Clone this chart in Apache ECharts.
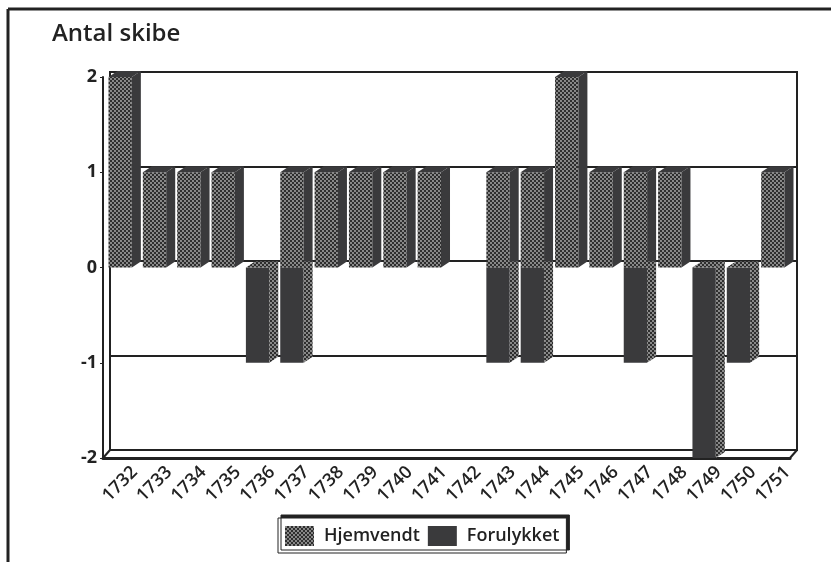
<!DOCTYPE html>
<html>
<head>
<meta charset="utf-8">
<style>
  html, body { margin: 0; padding: 0; background: #fff; }
  #chart { width: 831px; height: 562px; }
</style>
<script src="https://cdn.jsdelivr.net/npm/echarts@6/dist/echarts.min.js"></script>
</head>
<body>
<div id="chart"></div>
<script>
const years = ["1732","1733","1734","1735","1736","1737","1738","1739","1740","1741",
  "1742","1743","1744","1745","1746","1747","1748","1749","1750","1751"];
const hjemvendt = [2,1,1,1,0,1,1,1,1,1,0,1,1,2,1,1,1,0,0,1];
const forulykket = [0,0,0,0,-1,-1,0,0,0,0,0,-1,-1,0,0,-1,0,-2,-1,0];
const yTicks = { min: -2, max: 2, interval: 1 };

const fontName = '"Open Sans", "Noto Sans", sans-serif';
const ink = "#222222";
const dark = "#3a3a3c";
const depthX = 9, depthY = -6;

// dotted raster used for the "Hjemvendt" fill
function dotPattern() {
  const c = document.createElement("canvas");
  c.width = 4; c.height = 4;
  const g = c.getContext("2d");
  g.fillStyle = "#2e2e2e";
  g.fillRect(0, 0, 4, 4);
  g.fillStyle = "#b4b4b4";
  [[1, 1], [3, 3]].forEach(function (p) {
    g.beginPath();
    g.arc(p[0], p[1], 0.9, 0, Math.PI * 2);
    g.fill();
  });
  return { image: c, repeat: "repeat" };
}
const dots = dotPattern();

// 3D bar: front, side and top faces, all placed from the axis scales
function bar3d(frontFill, sideFill) {
  return function (params, api) {
    const v = api.value(1);
    if (!v) return null;
    const i = api.value(0);
    const w = api.size([1, 0])[0] * 0.68;
    const base = api.coord([i, 0]);
    const end = api.coord([i, v]);
    const x0 = base[0] - w / 2, x1 = base[0] + w / 2;
    const yTop = Math.min(base[1], end[1]);
    const yBot = Math.max(base[1], end[1]);
    return {
      type: "group",
      children: [
        { type: "rect", shape: { x: x0, y: yTop, width: w, height: yBot - yTop }, style: { fill: frontFill } },
        { type: "polygon", shape: { points: [[x1, yTop], [x1 + depthX, yTop + depthY], [x1 + depthX, yBot + depthY], [x1, yBot]] }, style: { fill: sideFill } },
        { type: "polygon", shape: { points: [[x0, yTop], [x0 + depthX, yTop + depthY], [x1 + depthX, yTop + depthY], [x1, yTop]] }, style: { fill: sideFill } }
      ]
    };
  };
}

const chart = echarts.init(document.getElementById("chart"));
chart.setOption({
  animation: false,
  backgroundColor: "#fff",
  title: {
    text: "Antal skibe",
    left: 47, top: 17,
    textStyle: { fontFamily: fontName, fontSize: 24, fontWeight: 600, color: ink }
  },
  legend: {
    left: 278, top: 518,
    data: [
      { name: "Hjemvendt", itemStyle: { color: dots } },
      { name: "Forulykket", itemStyle: { color: dark } }
    ],
    icon: "rect",
    itemWidth: 29, itemHeight: 20, itemGap: 8,
    padding: [8, 7, 7, 7],
    borderColor: ink, borderWidth: 1,
    backgroundColor: "#fff",
    shadowColor: ink, shadowBlur: 0, shadowOffsetX: 3, shadowOffsetY: -3,
    textStyle: { fontFamily: fontName, fontSize: 18, fontWeight: 600, color: ink, padding: [0, 0, 0, 5] }
  },
  grid: [
    { left: 103, right: 41, top: 77, bottom: 104 },
    // back wall, shifted by the bar depth
    { left: 110, right: 34, top: 72, bottom: 112, show: true, borderColor: ink, borderWidth: 2, backgroundColor: "#fff" }
  ],
  xAxis: [
    {
      type: "category", data: years, gridIndex: 0,
      axisLine: { onZero: false, lineStyle: { color: ink, width: 3 } },
      axisTick: { show: false },
      axisLabel: {
        rotate: 45, interval: 0, margin: 26, align: "center", verticalAlign: "middle",
        fontFamily: fontName, fontSize: 18, fontWeight: 600, color: ink
      }
    },
    { type: "category", data: years, gridIndex: 1, show: false }
  ],
  yAxis: [
    {
      type: "value", gridIndex: 0, min: yTicks.min, max: yTicks.max, interval: yTicks.interval,
      axisLine: { show: true, lineStyle: { color: ink, width: 2 } },
      axisTick: { show: true, length: 3, lineStyle: { color: ink } },
      splitLine: { show: false },
      axisLabel: { margin: 6, fontFamily: fontName, fontSize: 18, fontWeight: 700, color: ink }
    },
    {
      type: "value", gridIndex: 1, min: yTicks.min, max: yTicks.max, interval: yTicks.interval,
      axisLine: { show: false }, axisTick: { show: false }, axisLabel: { show: false },
      splitLine: { show: true, lineStyle: { color: ink, width: 2 } }
    }
  ],
  graphic: [
    // page frame round the figure
    { type: "line", shape: { x1: 8, y1: 9, x2: 831, y2: 9 }, style: { stroke: ink, lineWidth: 3 } },
    { type: "line", shape: { x1: 8, y1: 9, x2: 8, y2: 562 }, style: { stroke: ink, lineWidth: 3 } },
    // floor corners
    { type: "line", shape: { x1: 103, y1: 458, x2: 110, y2: 450 }, style: { stroke: ink, lineWidth: 2 } },
    { type: "line", shape: { x1: 790, y1: 458, x2: 797, y2: 450 }, style: { stroke: ink, lineWidth: 2 } }
  ],
  series: [
    {
      name: "Hjemvendt", type: "custom", xAxisIndex: 0, yAxisIndex: 0, z: 3,
      itemStyle: { color: dots },
      renderItem: bar3d(dots, dark),
      data: hjemvendt.map((v, i) => [i, v])
    },
    {
      name: "Forulykket", type: "custom", xAxisIndex: 0, yAxisIndex: 0, z: 3,
      itemStyle: { color: dark },
      renderItem: bar3d(dark, dots),
      data: forulykket.map((v, i) => [i, v])
    }
  ]
});
</script>
</body>
</html>
